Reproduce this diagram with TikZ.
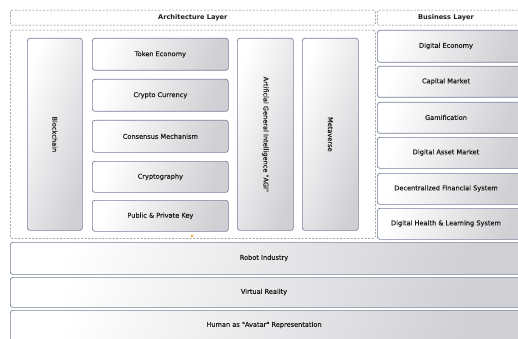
\documentclass[tikz,border=0pt]{standalone}
\usepackage{fontspec}
\setmainfont{DejaVu Sans}
\newfontfamily\lblfont[FakeBold=0.35]{DejaVu Sans}
\definecolor{boxline}{RGB}{118,130,155}
\definecolor{boxgrey}{RGB}{208,208,212}
\definecolor{txt}{RGB}{30,30,30}
\definecolor{dashc}{RGB}{120,120,120}
\definecolor{handle}{RGB}{230,170,40}
\begin{document}
\begin{tikzpicture}[x=1pt,y=-1pt,
  lbl/.style={font=\lblfont\fontsize{6.6}{7}\selectfont, text=txt},
  box/.style={draw=boxline, line width=0.7pt, rounded corners=2.5pt,
    left color=white, right color=boxgrey, shading angle=70,
    anchor=north west, inner sep=0pt, lbl},
  dbox/.style={draw=dashc, dash pattern=on 2pt off 1.5pt, line width=0.5pt,
    rounded corners=1.5pt, anchor=north west, inner sep=0pt},
  hdr/.style={font=\fontsize{6.6}{7}\bfseries\selectfont, text=txt}]
\useasboundingbox (0,0) rectangle (518,339);
\fill[white] (0,0) rectangle (518,339);
\clip (0,0) rectangle (518,339);
% headers
\node[dbox, minimum width=365, minimum height=15] (archhdr) at (10,10) {};
\node[hdr] (archtxt) at (archhdr.center) {Architecture Layer};
\node[dbox, minimum width=145, minimum height=15] (bushdr) at (377,10) {};
\node[hdr] (bustxt) at (446,17.5) {Business Layer};
% architecture frame
\node[dbox, minimum width=365, minimum height=208] (archframe) at (10,30) {};
% architecture boxes
\node[box, minimum width=55, minimum height=192] (blk) at (27,38) {};
\node[rotate=-90, lbl] (blkt) at (blk.center) {Blockchain};
\node[box, minimum width=136, minimum height=32] (tok) at (92,38) {Token Economy};
\node[box, minimum width=136, minimum height=32] (cry) at (92,79) {Crypto Currency};
\node[box, minimum width=136, minimum height=32] (con) at (92,120) {Consensus Mechanism};
\node[box, minimum width=136, minimum height=31] (cpt) at (92,161) {Cryptography};
\node[box, minimum width=136, minimum height=31] (key) at (92,200) {Public \& Private Key};
\node[box, minimum width=56, minimum height=192] (agi) at (237,38) {};
\node[rotate=-90, lbl] (agit) at (agi.center) {Artificial General Intelligence "AGI"};
\node[box, minimum width=56, minimum height=192] (meta) at (302,38) {};
\node[rotate=-90, lbl] (metat) at (meta.center) {Metaverse};
% business boxes
\node[box, minimum width=145, minimum height=32] (de) at (377,30) {};
\node[lbl] (det) at (446,46) {Digital Economy};
\node[box, minimum width=145, minimum height=31] (cm) at (377,66) {};
\node[lbl] (cmt) at (446,81.5) {Capital Market};
\node[box, minimum width=145, minimum height=31] (gam) at (377,102) {};
\node[lbl] (gamt) at (446,117.5) {Gamification};
\node[box, minimum width=145, minimum height=31] (dam) at (377,137) {};
\node[lbl] (damt) at (446,152.5) {Digital Asset Market};
\node[box, minimum width=145, minimum height=31] (dfs) at (377,173) {};
\node[lbl] (dfst) at (446,188.5) {Decentralized Financial System};
\node[box, minimum width=145, minimum height=31] (dhl) at (377,208) {};
\node[lbl] (dhlt) at (446,223.5) {Digital Health \& Learning System};
% bottom layers
\node[box, minimum width=515, minimum height=32] (robot) at (10,242) {};
\node[lbl] (robott) at (264,258) {Robot Industry};
\node[box, minimum width=515, minimum height=30] (vr) at (10,277) {};
\node[lbl] (vrt) at (264,292) {Virtual Reality};
\node[box, minimum width=515, minimum height=40] (human) at (10,310) {};
\node[lbl] (humant) at (264,325) {Human as "Avatar" Representation};
% handle dot
\fill[handle] (192,236) circle (1.3);
\end{tikzpicture}
\end{document}
